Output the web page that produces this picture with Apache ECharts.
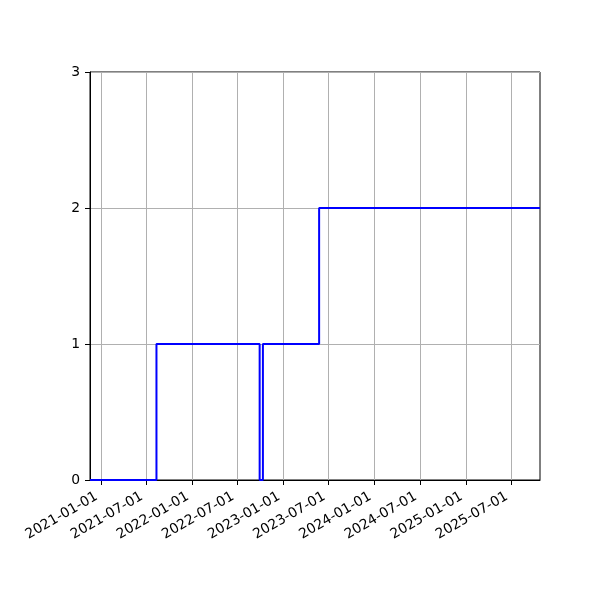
<!DOCTYPE html>
<html>
<head>
<meta charset="utf-8">
<script src="https://cdn.jsdelivr.net/npm/echarts@6/dist/echarts.min.js"></script>
<style>html,body{margin:0;padding:0;background:#fff;}#c{width:600px;height:600px;}</style>
</head>
<body>
<div id="c"></div>
<script>
const xMin = '2020-11-18';
const xMax = '2025-10-24';
const stepDates = ['2020-11-18', '2021-08-11', '2022-09-28', '2022-10-11', '2023-05-24', '2025-10-24'];
const stepValues = [0, 1, 0, 1, 2, 2];
const xTickLabels = ['2021-01-01', '2021-07-01', '2022-01-01', '2022-07-01', '2023-01-01',
                     '2023-07-01', '2024-01-01', '2024-07-01', '2025-01-01', '2025-07-01'];
const yTicks = [0, 1, 2, 3];

const ts = s => new Date(s + 'T00:00:00Z').getTime();
const data = stepDates.map((d, i) => [ts(d), stepValues[i]]);
const tickVals = xTickLabels.map(ts);
const pad = n => (n < 10 ? '0' : '') + n;
const fmt = v => { const d = new Date(v); return d.getUTCFullYear() + '-' + pad(d.getUTCMonth() + 1) + '-' + pad(d.getUTCDate()); };

const chart = echarts.init(document.getElementById('c'));
chart.setOption({
  animation: false,
  backgroundColor: '#fff',
  textStyle: { fontFamily: 'DejaVu Sans' },
  grid: { left: 90, right: 60, top: 72, bottom: 120, show: true, borderColor: '#000', borderWidth: 1, backgroundColor: 'transparent' },
  xAxis: {
    type: 'value',
    min: ts(xMin), max: ts(xMax),
    axisLine: { show: true, lineStyle: { color: '#000', width: 1 } },
    axisTick: { show: true, length: 5, lineStyle: { color: '#000' }, customValues: tickVals },
    axisLabel: { customValues: tickVals, formatter: fmt, rotate: 30, color: '#000', fontSize: 13.9, margin: 13, padding: [0, 5, 0, 0], fontFamily: 'DejaVu Sans' },
    splitLine: { show: true, lineStyle: { color: '#b0b0b0', width: 1 } }
  },
  yAxis: {
    type: 'value', min: 0, max: 3, interval: 1,
    axisLine: { show: true, lineStyle: { color: '#000', width: 1 } },
    axisTick: { show: true, length: 5, lineStyle: { color: '#000' } },
    axisLabel: { color: '#000', fontSize: 13.9, margin: 10, fontFamily: 'DejaVu Sans', formatter: v => yTicks.includes(v) ? String(v) : '' },
    splitLine: { show: true, lineStyle: { color: '#b0b0b0', width: 1 } }
  },
  series: [{
    type: 'line', step: 'end', data: data, showSymbol: false, symbol: 'none',
    lineStyle: { color: '#0000ff', width: 2 }, clip: true
  }]
});
</script>
</body>
</html>
